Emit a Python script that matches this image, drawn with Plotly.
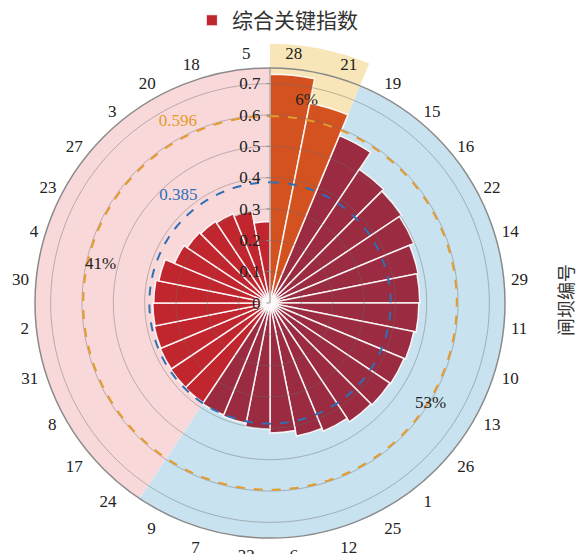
import numpy as np
import plotly.graph_objects as go

# ---------------- data ----------------
gates = ["28", "21", "19", "15", "16", "22", "14", "29", "11", "10", "13", "26",
         "1", "25", "12", "6", "32", "7", "9", "24", "17", "8", "31", "2",
         "30", "4", "23", "27", "3", "20", "18", "5"]
index_values = [0.730, 0.650, 0.578, 0.513, 0.505, 0.497, 0.482, 0.478, 0.475, 0.468,
                0.463, 0.460, 0.456, 0.443, 0.433, 0.415, 0.402, 0.391, 0.387, 0.383,
                0.381, 0.379, 0.377, 0.374, 0.371, 0.362, 0.330, 0.318, 0.313, 0.308,
                0.300, 0.260]
upper_threshold = 0.596
lower_threshold = 0.385
series_name = "综合关键指数"
axis_title = "闸坝编号"

# ---------------- style ----------------
W, H = 584, 554
R_MAX = 0.75
YELLOW_EXT = 0.827
serif = "Liberation Serif, Times New Roman, Noto Sans CJK SC, serif"
col_high, col_mid, col_low = "#d4521f", "#9a2b40", "#c1262e"
bg_high, bg_mid, bg_low = "#f8e6b8", "#c9e2ef", "#f9d8da"

n = len(gates)
step = 360.0 / n
centers = [i * step + step / 2 for i in range(n)]

groups = []
for v in index_values:
    if v >= upper_threshold:
        groups.append("high")
    elif v >= lower_threshold:
        groups.append("mid")
    else:
        groups.append("low")

def span(g):
    idx = [i for i, gg in enumerate(groups) if gg == g]
    return idx[0] * step, (idx[-1] + 1) * step, len(idx)

fig = go.Figure()

# background sectors (mid & low) inside the disc
for g, c in (("mid", bg_mid), ("low", bg_low)):
    a0, a1, _ = span(g)
    fig.add_trace(go.Barpolar(r=[R_MAX], theta=[(a0 + a1) / 2], width=[a1 - a0], base=0,
                              marker=dict(color=c, line=dict(width=0)),
                              showlegend=False, hoverinfo="skip"))

# grid circles
tt = np.linspace(0, 360, 721)
for rv in np.arange(0.1, 0.71, 0.1):
    fig.add_trace(go.Scatterpolar(r=[rv] * len(tt), theta=tt, mode="lines",
                                  line=dict(color="rgba(110,110,110,0.45)", width=1),
                                  showlegend=False, hoverinfo="skip"))

# bars
for g, c, show in (("low", col_low, True), ("mid", col_mid, False), ("high", col_high, False)):
    idx = [i for i, gg in enumerate(groups) if gg == g]
    fig.add_trace(go.Barpolar(r=[index_values[i] for i in idx],
                              theta=[centers[i] for i in idx],
                              width=[step] * len(idx),
                              marker=dict(color=c, line=dict(color="rgba(255,255,255,0.9)", width=1.5)),
                              name=series_name, legendgroup="bars", showlegend=show))

# threshold dashed circles
fig.add_trace(go.Scatterpolar(r=[upper_threshold] * len(tt), theta=tt, mode="lines",
                              line=dict(color="#e69a2a", width=2, dash="dash"),
                              showlegend=False, hoverinfo="skip"))
fig.add_trace(go.Scatterpolar(r=[lower_threshold] * len(tt), theta=tt, mode="lines",
                              line=dict(color="#2f6fb6", width=2, dash="dash"),
                              showlegend=False, hoverinfo="skip"))

# threshold labels
fig.add_trace(go.Scatterpolar(r=[0.648, 0.45], theta=[333, 319.5], mode="text",
                              text=[f"{upper_threshold:.3f}", f"{lower_threshold:.3f}"],
                              textfont=dict(family=serif, size=17, color=["#e69a2a", "#2f6fb6"]),
                              showlegend=False, hoverinfo="skip"))

# percentage labels
pct_r = {"high": 0.655, "mid": 0.605, "low": 0.555}
pct_shift = {"high": -1.0, "mid": 4.0, "low": -4.0}
pct_t, pct_rr, pct_txt = [], [], []
for g in ("high", "mid", "low"):
    a0, a1, k = span(g)
    pct_t.append((a0 + a1) / 2 + pct_shift[g])
    pct_rr.append(pct_r[g])
    pct_txt.append(f"{round(100 * k / n)}%")
fig.add_trace(go.Scatterpolar(r=pct_rr, theta=pct_t, mode="text", text=pct_txt,
                              textfont=dict(family=serif, size=17, color="#222222"),
                              showlegend=False, hoverinfo="skip"))

# tick marks at sector boundaries (outside the circle)
bounds = [i * step for i in range(n)]
fig.add_trace(go.Scatterpolar(r=[R_MAX * 1.009] * n, theta=bounds, mode="markers",
                              marker=dict(symbol="line-ns", size=6, angle=bounds,
                                          line=dict(color="#7a7a7a", width=1)),
                              cliponaxis=False, showlegend=False, hoverinfo="skip"))

# polar layout geometry
dom_x = [35 / W, 505 / W]
dom_y = [1 - 538 / H, 1 - 68 / H]

fig.update_layout(
    width=W, height=H, template="none",
    margin=dict(l=0, r=0, t=0, b=0),
    paper_bgcolor="white",
    font=dict(family=serif, size=17, color="#222222"),
    barmode="overlay",
    polar=dict(
        domain=dict(x=dom_x, y=dom_y),
        bgcolor="rgba(0,0,0,0)",
        radialaxis=dict(range=[0, R_MAX], tickvals=[0, 0.1, 0.2, 0.3, 0.4, 0.5, 0.6, 0.7],
                        ticktext=["0", "0.1", "0.2", "0.3", "0.4", "0.5", "0.6", "0.7"],
                        angle=90, side="counterclockwise", tickangle=90,
                        showgrid=False, showline=True, linecolor="#8a8a8a", linewidth=1,
                        ticks="outside", ticklen=3, tickcolor="#8a8a8a",
                        tickfont=dict(family=serif, size=17, color="#222222"),
                        layer="above traces"),
        angularaxis=dict(rotation=90, direction="clockwise", thetaunit="degrees",
                         tickmode="array", tickvals=centers, ticktext=gates,
                         showgrid=False, showline=True, linecolor="#8a8a8a", linewidth=1.5,
                         ticks="outside", ticklen=3, tickcolor="rgba(0,0,0,0)",
                         tickfont=dict(family=serif, size=17, color="#222222"),
                         layer="above traces"),
    ),
    legend=dict(orientation="h", x=0.475, xanchor="center", y=1.0, yanchor="top",
                font=dict(family=serif, size=21, color="#333333"), bgcolor="rgba(0,0,0,0)",
                itemsizing="constant"),
    annotations=[dict(text=axis_title, x=565 / W, y=1 - 300 / H, xref="paper", yref="paper",
                      xanchor="center", yanchor="middle",
                      showarrow=False, textangle=-90,
                      font=dict(family="Noto Sans CJK SC", size=18, color="#333333"))],
)

# yellow wedge extending beyond the disc (drawn beneath the polar subplot)
cx = (dom_x[0] + dom_x[1]) / 2 * W
cy = (1 - (dom_y[0] + dom_y[1]) / 2) * H
rpx = (dom_x[1] - dom_x[0]) * W / 2 * YELLOW_EXT / R_MAX
a0, a1, _ = span("high")
angs = np.linspace(a0, a1, 40)
pts = [(cx, cy)] + [(cx + rpx * np.sin(np.radians(a)), cy - rpx * np.cos(np.radians(a))) for a in angs]
path = "M " + " L ".join(f"{px / W:.5f},{1 - py / H:.5f}" for px, py in pts) + " Z"
fig.add_shape(type="path", path=path, xref="paper", yref="paper", layer="below",
              fillcolor=bg_high, line=dict(width=0))

fig.write_html("out.html")
